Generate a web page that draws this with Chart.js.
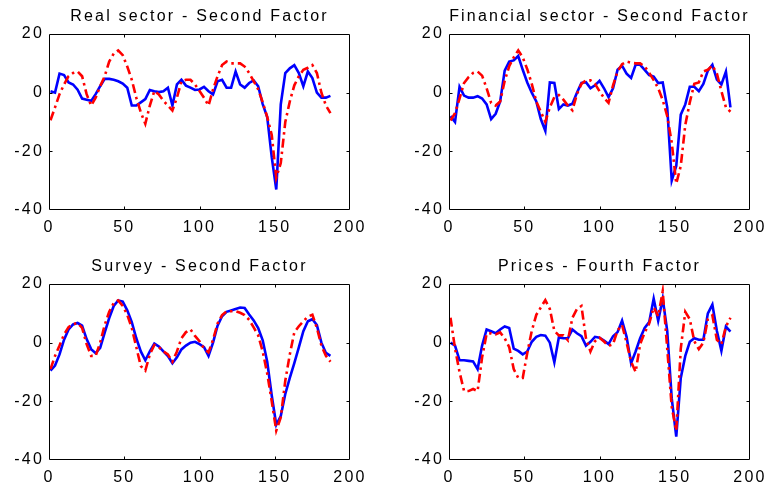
<!DOCTYPE html>
<html>
<head>
<meta charset="utf-8">
<script src="https://cdn.jsdelivr.net/npm/chart.js@4/dist/chart.umd.min.js"></script>
<style>
  html, body { margin: 0; padding: 0; background: #fff; width: 769px; height: 489px; overflow: hidden; }
  canvas { position: absolute; }
</style>
</head>
<body>
<canvas id="c0" width="384" height="238" style="left:0;top:0"></canvas>
<canvas id="c1" width="384" height="238" style="left:400px;top:0"></canvas>
<canvas id="c2" width="384" height="238" style="left:0;top:250px"></canvas>
<canvas id="c3" width="384" height="238" style="left:400px;top:250px"></canvas>
<script>
// Observation index (every third period)
const t = [1, 4, 7, 10, 13, 16, 19, 22, 25, 28, 31, 34, 37, 40, 43, 46, 49, 52, 55, 58,
           61, 64, 67, 70, 73, 76, 79, 82, 85, 88, 91, 94, 97, 100, 103, 106, 109, 112, 115, 118,
           121, 124, 127, 130, 133, 136, 139, 142, 145, 148, 151, 154, 157, 160, 163, 166, 169, 172, 175, 178,
           181, 184, 187];

const panelTitles = ['Real sector - Second Factor', 'Financial sector - Second Factor',
                     'Survey - Second Factor', 'Prices - Fourth Factor'];

const xTicks = [0, 50, 100, 150, 200];
const yTicks = [-40, -20, 0, 20];

// Real sector
const realS1 = [0.5, 0, 6.5, 6, 3.5, 2.8, 1, -2, -2.4, -2.8, -0.5, 2.2, 4.7, 4.7, 4.4, 3.9, 3.1, 1.7, -4.4, -4.4,
                -3.3, -2.2, 0.9, 0.5, 0.2, 0.5, 1.7, -4.4, 2.8, 4.4, 2.4, 1.7, 0.9, 1.1, 2, 0.5, -0.6, 3.9, 4.4, 1.7,
                1.7, 7.2, 2.8, 1.7, 3.3, 4.2, 2.2, -3.9, -8.3, -22, -33, -4, 6.7, 8.3, 9.4, 6.7, 2.2, 7.2, 5, 0,
                -1.7, -1.7, -1.1];
const realS2 = [-9.4, -5, -0.5, 2.8, 5.6, 6.7, 7.2, 5.6, -0.5, -4.4, -1.7, 2.2, 5.6, 10.6, 13.3, 14.4, 12.8, 8.9, 4.4, -1.7,
                -6.7, -10.6, -4.4, 0.6, -0.6, -2.8, -4.4, -6.1, -1.7, 3.9, 4.4, 4.4, 2.8, 0.6, -1.7, -4.4, 1.1, 5.6, 9.4, 10.6,
                10, 10, 10, 8.9, 6.7, 3.9, 1.1, -3.3, -8.3, -14.4, -29, -24, -10, -3, 2.5, 5.6, 7.8, 8.5, 9.4, 6.7,
                0, -4.4, -7];

// Financial sector
const finS1 = [-8, -10, 2, -1, -1.7, -1.7, -1.2, -2, -4, -9, -7.2, -3, 7.5, 10.6, 11, 12.5, 7.8, 3.5, 0, -3,
               -9, -13, 3.5, 3.3, -5.6, -4, -4.4, -3.8, 0, 3.3, 3.6, 1.5, 2.5, 4, 1.5, -1.5, 1.5, 7.8, 9.2, 6.5,
               5, 9.5, 9.5, 7.8, 6, 5.5, 3.3, 3.5, -5, -30, -25, -7.5, -4, 2, 2, 0.5, 3, 7.5, 9.5, 4.5,
               2.8, 7.2, -5];
const finS2 = [-9.5, -7, -2, 3.3, 5.3, 6.7, 7.2, 5.8, 1.5, -3.5, -4.4, -3, 4, 9, 12, 14.4, 12, 8, 3, -3,
               -6.5, -10, -5, -1.5, -0.8, -2.4, -4.4, -6, -0.5, 3, 4.2, 4.2, 3, 0.5, -1.8, -3.5, 2.5, 7.2, 9.7, 10.6,
               10.2, 10, 10, 8.9, 6.8, 4.3, 1.5, -2.5, -8, -17, -31, -25, -11, -3.3, 3, 3.5, 7.2, 7.8, 9.3, 6.5,
               0.5, -5, -6.5];

// Survey
const survS1 = [-9.5, -7.8, -4, 1, 4.5, 6.2, 6.7, 5.8, 1.2, -2.2, -3.6, -1.8, 3.4, 8.4, 12.5, 14.4, 14, 11, 7, 1.5,
                -3, -6, -3, -0.3, -1.3, -3, -4.6, -7, -5, -2.3, -1, 0, 0.3, -0.5, -1.5, -4.5, 0, 5.8, 9, 10.5,
                11, 11.5, 12, 11.8, 9.6, 7.6, 5, 0.8, -6.5, -18, -28, -25, -17.5, -12, -7, -1.6, 3.9, 7.3, 8, 6,
                0, -3.5, -4.5];
const survS2 = [-9, -4.5, -1, 2.8, 5.3, 6.3, 6.7, 5, -0.5, -4.5, -4.5, 0, 6, 10.5, 13.5, 14.4, 12.5, 9.5, 5, -1.5,
                -8, -9.5, -4, -0.8, -1.5, -3, -4, -6.5, -3, 1.5, 3.6, 4.5, 2.3, 0.5, -2, -3.3, 1, 6.5, 9.4, 10.7,
                10.7, 10.7, 10.2, 9.4, 7.8, 5.2, 2.5, -3, -10.5, -20, -30, -25.5, -13, -4, 3.5, 5.6, 7.3, 8.9, 9.5, 5,
                -1, -4.5, -6.5];

// Prices
const priceS1 = [0, -1, -6, -6, -6.2, -6.4, -9, -1, 4.5, 3.9, 3.2, 4.5, 5.5, 5, -2, -2.8, -4, -3, 0.3, 2,
                 2.6, 2.4, 0, -6.7, 1.8, 1.5, 1.5, 4.5, 3.2, 2.2, -1, 0.3, 2, 1.7, 0.7, -0.5, 2.2, 3.6, 7.5, 2,
                 -7, -3, 1.5, 5, 7, 15, 7.5, 15, 4, -19, -32, -12, -4.5, 0.3, 1.5, 1, 1, 10, 13, 4,
                 -2.8, 5.5, 3.8];
const priceS2 = [8.5, -2, -10, -16.5, -16.5, -15.8, -16.5, -5, 3, 3.2, 2.8, 3.5, 1.5, -1.5, -9, -12, -12, -3.5, 4, 9.5,
                 12, 14.5, 11.5, 4, 2.5, 2.5, 0.8, 8.5, 11.5, 12.5, 1.5, -3, 0.5, 1.7, 0.4, -1.1, -0.5, 4.2, 6, 0,
                 -6.5, -10, -0.5, 3.4, 6.5, 12, 9, 17.5, -2, -22, -30, -2, 10.5, 8, 0.5, -2.2, 0, 8, 9.3, 1,
                 -0.5, 5.5, 8.5];

const panels = [
  { id: 'c0', title: panelTitles[0], s1: realS1, s2: realS2 },
  { id: 'c1', title: panelTitles[1], s1: finS1, s2: finS2 },
  { id: 'c2', title: panelTitles[2], s1: survS1, s2: survS2 },
  { id: 'c3', title: panelTitles[3], s1: priceS1, s2: priceS2 }
];

const FONT = '"Liberation Sans", Arial, Helvetica, sans-serif';
const SPACING = '2.2px';

// Box around the plot area with short inward tick marks on all four sides
const boxPlugin = {
  id: 'box',
  beforeUpdate(chart) { chart.ctx.letterSpacing = SPACING; },
  beforeLayout(chart) { chart.ctx.letterSpacing = SPACING; },
  beforeDraw(chart) { chart.ctx.letterSpacing = SPACING; },
  afterDraw(chart) {
    const { ctx, chartArea: a, scales } = chart;
    const L = Math.round(a.left) + 0.5, R = Math.round(a.right) - 0.5;
    const T = Math.round(a.top) + 0.5, B = Math.round(a.bottom) - 0.5;
    const tl = 3;
    ctx.save();
    ctx.strokeStyle = '#000';
    ctx.lineWidth = 1;
    ctx.beginPath();
    ctx.rect(L, T, R - L, B - T);
    scales.x.ticks.forEach(tk => {
      const px = Math.round(scales.x.getPixelForValue(tk.value)) + 0.5;
      if (px <= L + 1 || px >= R - 1) return;
      ctx.moveTo(px, B); ctx.lineTo(px, B - tl);
      ctx.moveTo(px, T); ctx.lineTo(px, T + tl);
    });
    scales.y.ticks.forEach(tk => {
      const py = Math.round(scales.y.getPixelForValue(tk.value)) + 0.5;
      if (py <= T + 1 || py >= B - 1) return;
      ctx.moveTo(L, py); ctx.lineTo(L + tl, py);
      ctx.moveTo(R, py); ctx.lineTo(R - tl, py);
    });
    ctx.stroke();
    ctx.restore();
  }
};

panels.forEach(p => {
  new Chart(document.getElementById(p.id), {
    type: 'line',
    data: {
      datasets: [
        {
          data: t.map((x, i) => ({ x, y: p.s2[i] })),
          borderColor: '#ff0000',
          borderWidth: 2.6,
          borderDash: [9, 4, 2.5, 4],
          pointRadius: 0,
          tension: 0,
          order: 0
        },
        {
          data: t.map((x, i) => ({ x, y: p.s1[i] })),
          borderColor: '#0000ff',
          borderWidth: 2.6,
          pointRadius: 0,
          tension: 0,
          order: 1
        }
      ]
    },
    options: {
      responsive: false,
      animation: false,
      devicePixelRatio: 1,
      layout: { padding: { left: 0, right: 34, top: 0, bottom: 0 } },
      plugins: {
        legend: { display: false },
        tooltip: { enabled: false },
        title: {
          display: true,
          text: p.title,
          fullSize: false,
          color: '#000',
          font: { family: FONT, size: 16, weight: 'normal' },
          padding: { top: 7, bottom: 7.8 }
        }
      },
      scales: {
        x: {
          type: 'linear',
          min: xTicks[0],
          max: xTicks[xTicks.length - 1],
          afterBuildTicks: s => { s.ticks = xTicks.map(v => ({ value: v })); },
          grid: { display: false, drawTicks: false },
          border: { display: false },
          ticks: { color: '#000', font: { family: FONT, size: 16 }, padding: 8, maxRotation: 0, autoSkip: false },
          afterFit: s => { s.height = 28; }
        },
        y: {
          min: yTicks[0],
          max: yTicks[yTicks.length - 1],
          afterBuildTicks: s => { s.ticks = yTicks.map(v => ({ value: v })); },
          grid: { display: false, drawTicks: false },
          border: { display: false },
          ticks: { color: '#000', font: { family: FONT, size: 16 }, padding: 5 },
          afterFit: s => { s.width = 49; }
        }
      }
    },
    plugins: [boxPlugin]
  });
});
</script>
</body>
</html>
